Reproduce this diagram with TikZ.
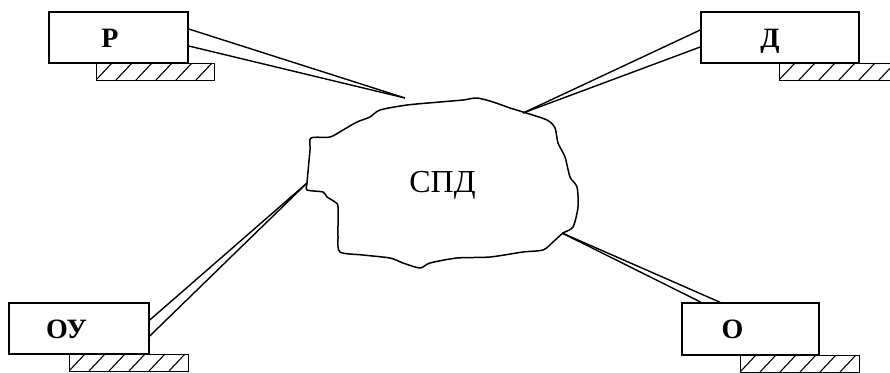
\documentclass[tikz,border=0pt]{standalone}
\usepackage{fontspec}
\setmainfont{Liberation Serif}
\newcommand\hatchrect[4]{%
  \draw[hatchframe] (#1,#2) rectangle (#3,#4);
  \begin{scope}
    \clip (#1,#2) rectangle (#3,#4);
    \foreach \k in {0,...,8} \draw[hatchline] ({#1+\k*20},#4) -- ++(20,-21.25);
  \end{scope}}
\begin{document}
\begin{tikzpicture}[x=1pt,y=-1pt,
  box/.style={draw, line width=1.5pt, inner sep=0pt, fill=white},
  lbl/.style={font=\bfseries\fontsize{28}{28}\selectfont, anchor=base, inner sep=0pt},
  conn/.style={line width=1.4pt},
  cloudline/.style={line width=1.5pt},
  hatchframe/.style={line width=0.8pt},
  hatchline/.style={line width=1.1pt}]
\useasboundingbox (0,0) rectangle (890,372);

% hatched bases
\hatchrect{96}{63}{214}{80}
\hatchrect{779}{63}{895}{80}
\hatchrect{69}{354}{188}{371}
\hatchrect{740}{355}{859}{372}

% boxes
\node[box, minimum width=139pt, minimum height=51pt] (R)  at (118.5,37.5) {};
\node[box, minimum width=158pt, minimum height=51pt] (D)  at (780,37.5) {};
\node[box, minimum width=140pt, minimum height=51pt] (OU) at (79,328.5) {};
\node[box, minimum width=137pt, minimum height=52pt] (O)  at (750.5,329) {};

\node[lbl] (Rl)  at (110,47)  {Р};
\node[lbl] (Dl)  at (770,47)  {Д};
\node[lbl] (OUl) at (66.5,338) {ОУ};
\node[lbl] (Ol)  at (732.5,338) {О};

% cloud
\draw[cloudline] plot[smooth cycle, tension=0.45] coordinates {
 (311,138) (330,137) (343,130) (357,122) (370,117) (380,110) (407,105)
 (440,102) (463,100) (477,98) (493,102) (510,108) (523,112) (547,120)
 (555,128) (558,143) (565,157) (570,177) (577,187) (578,207) (573,227)
 (563,233) (553,242) (543,250) (523,252) (490,257) (457,258) (430,263)
 (420,268) (403,263) (390,258) (363,255) (340,252) (338,237) (338,207)
 (335,202) (327,197) (323,192) (307,190) (307,183) (310,150)};
\node[font=\fontsize{32}{32}\selectfont, anchor=base, inner sep=0pt] (SPD) at (442.5,192) {СПД};

% convergence points
\coordinate (cR)  at (405,98);
\coordinate (cD)  at (523,113);
\coordinate (cOU) at (307,183);
\coordinate (cO)  at (562,233);

% connectors
\draw[conn] ([yshift=8.5pt]R.east) -- (cR);
\draw[conn] ([yshift=-8.5pt]R.east) -- (cR);
\draw[conn] ([yshift=7.5pt]D.west) -- (cD);
\draw[conn] ([yshift=-9.5pt]D.west) -- (cD);
\draw[conn] ([yshift=8.5pt]OU.east) -- (cOU);
\draw[conn] ([yshift=-7.5pt]OU.east) -- (cOU);
\draw[conn] ([xshift=-49.5pt]O.north) -- (cO);
\draw[conn] ([xshift=-30.5pt]O.north) -- (cO);
\end{tikzpicture}
\end{document}
